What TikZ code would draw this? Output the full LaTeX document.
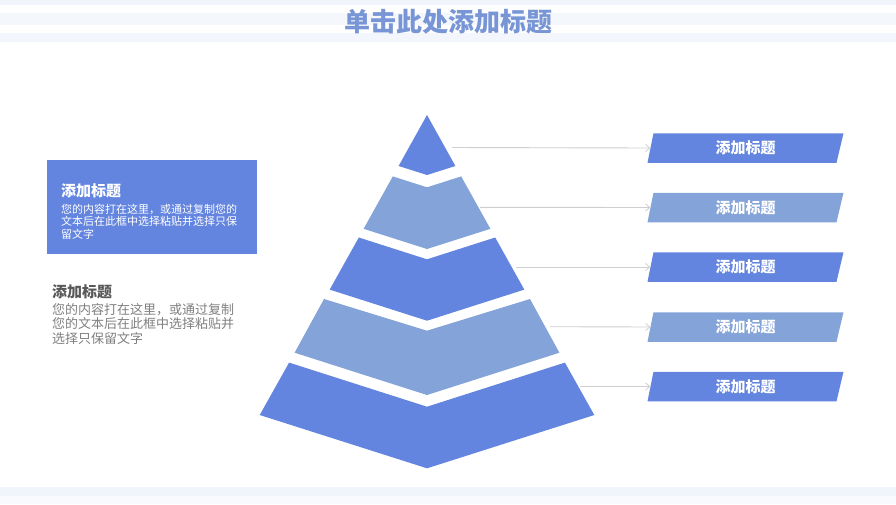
\documentclass[tikz,border=0pt]{standalone}
\usepackage{fontspec}
\newfontfamily\cjk{Noto Sans CJK SC}
\usetikzlibrary{arrows.meta}
\definecolor{dkblue}{HTML}{6385E0}
\definecolor{ltblue}{HTML}{84A3D8}
\definecolor{titleblue}{HTML}{7895D6}
\definecolor{stripe}{HTML}{EAF0FA}
\definecolor{linegray}{HTML}{CFCFCF}
\definecolor{darktext}{HTML}{595959}
\definecolor{graytext}{HTML}{7F7F7F}
\tikzset{
  sidebox/.style={minimum width=196pt, minimum height=29.5pt, inner sep=0pt, text=white,
    font=\cjk\fontsize{15}{17}\selectfont\bfseries},
  darkpar/.style={sidebox, path picture={\fill[dkblue] ([xshift=6pt]path picture bounding box.north west) -- (path picture bounding box.north east) -- ([xshift=-7pt]path picture bounding box.south east) -- (path picture bounding box.south west) -- cycle;}},
  lightpar/.style={sidebox, path picture={\fill[ltblue] ([xshift=6pt]path picture bounding box.north west) -- (path picture bounding box.north east) -- ([xshift=-7pt]path picture bounding box.south east) -- (path picture bounding box.south west) -- cycle;}},
  conn/.style={draw=linegray, line width=0.9pt, -{Straight Barb[length=4pt,width=7pt,line width=0.8pt]}},
}
\begin{document}
\begin{tikzpicture}[x=1pt,y=-1pt]
\useasboundingbox (0,0) rectangle (896,504);
\fill[white] (0,0) rectangle (896,504);
% top stripes
\fill[stripe!70] (0,0) rectangle (896,4.5);
\fill[stripe!55] (0,13) rectangle (896,25);
\fill[stripe!60] (0,33) rectangle (896,42);
% bottom stripe
\fill[stripe!70] (0,487) rectangle (896,496);
\fill[stripe!30] (0,496) rectangle (896,504);
% title
\node (title) at (448,22) {\cjk\fontsize{26}{30}\selectfont\bfseries\color{titleblue}单击此处添加标题};
% pyramid
\fill[dkblue] (427,115) -- (455.4,166) -- (427,175) -- (398.6,166) -- cycle;
\fill[ltblue] (392.8,176.4) -- (427,187.3) -- (461.2,176.4) -- (490.4,228.8) -- (427,249) -- (363.6,228.8) -- cycle;
\fill[dkblue] (358.8,237.5) -- (427,259.3) -- (495.2,237.5) -- (524.3,289.6) -- (427,320.7) -- (329.7,289.6) -- cycle;
\fill[ltblue] (324,299) -- (427,330.7) -- (530,299) -- (559.4,352.7) -- (427,395) -- (294.6,352.7) -- cycle;
\fill[dkblue] (289.1,362.6) -- (427,406.7) -- (564.9,362.6) -- (594.3,415) -- (427,468.3) -- (259.7,415) -- cycle;
% start points of connectors
\coordinate (s1) at (452,147.5);
\coordinate (s2) at (480,207.3);
\coordinate (s3) at (516,267);
\coordinate (s4) at (550,326.7);
\coordinate (s5) at (580,386.5);
% right boxes
\node[darkpar]  (b1) at (745.5,148)   {添加标题};
\node[lightpar] (b2) at (745.5,207.5) {添加标题};
\node[darkpar]  (b3) at (745.5,267)   {添加标题};
\node[lightpar] (b4) at (745.5,327)   {添加标题};
\node[darkpar]  (b5) at (745.5,386.5) {添加标题};
\foreach \i in {1,...,5}{\draw[conn] (s\i) -- ([xshift=3pt]b\i.west);}
% left blue box
\node[fill=dkblue, minimum width=210pt, minimum height=94pt, inner sep=0pt, anchor=north west] (lbox) at (47,160) {};
\node[anchor=west, inner sep=0pt, text=white, font=\cjk\fontsize{15}{17}\selectfont\bfseries] (lt) at (61,191) {添加标题};
\node[anchor=north west, inner sep=0pt, text=white, align=left, font=\cjk\fontsize{11}{12.6}\selectfont] (lb) at (61,203.5) {您的内容打在这里，或通过复制您的\\文本后在此框中选择粘贴并选择只保\\留文字};
% second text block
\node[anchor=west, inner sep=0pt, text=darktext, font=\cjk\fontsize{15}{17}\selectfont\bfseries] (t2) at (52,292) {添加标题};
\node[anchor=north west, inner sep=0pt, text=graytext, align=left, font=\cjk\fontsize{13}{14.6}\selectfont] (b2t) at (52,303) {您的内容打在这里，或通过复制\\您的文本后在此框中选择粘贴并\\选择只保留文字};
\end{tikzpicture}
\end{document}
